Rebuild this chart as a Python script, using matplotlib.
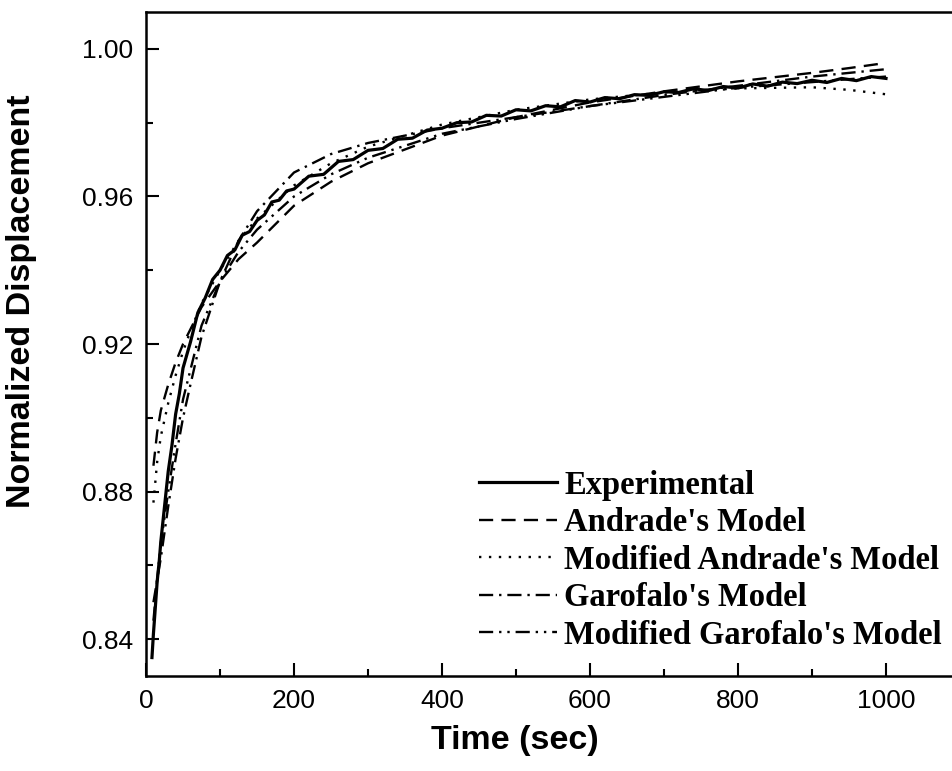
import matplotlib
matplotlib.use("Agg")
import matplotlib.pyplot as plt
from matplotlib.ticker import MultipleLocator

# Experimental creep record (normalized displacement vs time)
exp_t = [8, 10, 12, 15, 18, 20, 25, 30, 35, 40, 45, 50, 60, 70, 80, 90, 100,
         110, 120, 130, 140, 150, 160, 170, 180, 190, 200, 220, 240, 260, 280,
         300, 320, 340, 360, 380, 400, 420, 440, 460, 480, 500, 520, 540, 560,
         580, 600, 620, 640, 660, 680, 700, 720, 740, 760, 780, 800, 820, 840,
         860, 880, 900, 920, 940, 960, 980, 1000]
exp_y = [0.8350, 0.8415, 0.8470, 0.8555, 0.8615, 0.8665, 0.8760, 0.8855,
         0.8925, 0.9010, 0.9065, 0.9135, 0.9205, 0.9285, 0.9325, 0.9375,
         0.9400, 0.9440, 0.9455, 0.9495, 0.9505, 0.9535, 0.9550, 0.9585,
         0.9590, 0.9615, 0.9620, 0.9655, 0.9660, 0.9695, 0.9700, 0.9725,
         0.9730, 0.9755, 0.9758, 0.9780, 0.9785, 0.9800, 0.9802, 0.9820,
         0.9818, 0.9835, 0.9832, 0.9846, 0.9843, 0.9860, 0.9856, 0.9868,
         0.9865, 0.9876, 0.9874, 0.9884, 0.9882, 0.9892, 0.9887, 0.9898,
         0.9894, 0.9905, 0.9899, 0.9910, 0.9906, 0.9915, 0.9909, 0.9920,
         0.9914, 0.9925, 0.9920]

# Fitted model curves
model_t = [10, 15, 20, 30, 40, 50, 60, 75, 100, 125, 150, 200, 250, 300,
           400, 500, 600, 700, 800, 900, 950, 1000]
andrade_y = [0.8870, 0.8960, 0.9020, 0.9090, 0.9150, 0.9200, 0.9240, 0.9300,
             0.9370, 0.9430, 0.9475, 0.9575, 0.9640, 0.9690, 0.9765, 0.9815,
             0.9855, 0.9885, 0.9912, 0.9935, 0.9948, 0.9962]
mod_andrade_y = [0.8770, 0.8880, 0.8950, 0.9040, 0.9115, 0.9180, 0.9235,
                 0.9310, 0.9400, 0.9480, 0.9540, 0.9630, 0.9690, 0.9735,
                 0.9795, 0.9835, 0.9863, 0.9882, 0.9893, 0.9896, 0.9889,
                 0.9877]
garofalo_y = [0.8500, 0.8560, 0.8620, 0.8760, 0.8890, 0.9000, 0.9090, 0.9220,
              0.9370, 0.9480, 0.9560, 0.9665, 0.9715, 0.9745, 0.9785, 0.9815,
              0.9845, 0.9875, 0.9900, 0.9925, 0.9935, 0.9945]
mod_garofalo_y = [0.8450, 0.8560, 0.8660, 0.8800, 0.8930, 0.9050, 0.9130,
                  0.9250, 0.9370, 0.9450, 0.9510, 0.9600, 0.9660, 0.9705,
                  0.9770, 0.9810, 0.9845, 0.9870, 0.9895, 0.9910, 0.9918,
                  0.9925]

labels = ["Experimental", "Andrade's Model", "Modified Andrade's Model",
          "Garofalo's Model", "Modified Garofalo's Model"]

x_ticks = [0, 200, 400, 600, 800, 1000]
y_ticks = [0.84, 0.88, 0.92, 0.96, 1.00]

plt.rcParams["font.family"] = ["Liberation Sans", "DejaVu Sans"]

fig = plt.figure(figsize=(9.52, 7.71), dpi=100)
ax = fig.add_axes([0.1534, 0.1232, 0.855, 0.8612])

lw = 1.7
ax.plot(exp_t, exp_y, color="black", lw=2.3, ls="-", label=labels[0])
ax.plot(model_t, andrade_y, color="black", lw=lw, ls=(0, (6, 3.5)),
        label=labels[1])
ax.plot(model_t, mod_andrade_y, color="black", lw=lw, ls=(0, (1, 3.2)),
        label=labels[2])
ax.plot(model_t, garofalo_y, color="black", lw=lw, ls=(0, (6, 2.5, 1, 2.5)),
        label=labels[3])
ax.plot(model_t, mod_garofalo_y, color="black", lw=lw,
        ls=(0, (6, 2.5, 1, 2.5, 1, 2.5)), label=labels[4])

ax.set_xlim(0, 1100)
ax.set_ylim(0.83, 1.01)
ax.set_xticks(x_ticks)
ax.set_xticklabels([str(v) for v in x_ticks])
ax.set_yticks(y_ticks)
ax.set_yticklabels([f"{v:.2f}" for v in y_ticks])
ax.xaxis.set_minor_locator(MultipleLocator(100))
ax.yaxis.set_minor_locator(MultipleLocator(0.02))

ax.tick_params(which="both", direction="in", top=False, right=False,
               width=1.5, labelsize=19)
ax.tick_params(which="major", length=9.5)
ax.tick_params(which="minor", length=5)
ax.tick_params(axis="x", pad=9)
ax.tick_params(axis="y", pad=9)

for side in ("left", "bottom", "top"):
    ax.spines[side].set_linewidth(1.8)
ax.spines["right"].set_visible(False)

ax.set_xlabel("Time (sec)", fontsize=24.5, fontweight="bold")
ax.xaxis.set_label_coords(0.453, -0.074)
ax.set_ylabel("Normalized Displacement", fontsize=24.5, fontweight="bold")
ax.yaxis.set_label_coords(-0.134, 0.565)

leg = ax.legend(loc="upper left", bbox_to_anchor=(0.503, 0.391),
                bbox_transform=fig.transFigure, frameon=False,
                prop={"family": "Liberation Serif", "weight": "bold",
                      "size": 23.5},
                handlelength=2.4, handletextpad=0.22, labelspacing=0.2,
                borderpad=0.0, borderaxespad=0.0)

fig.savefig("out.png", dpi=100)
